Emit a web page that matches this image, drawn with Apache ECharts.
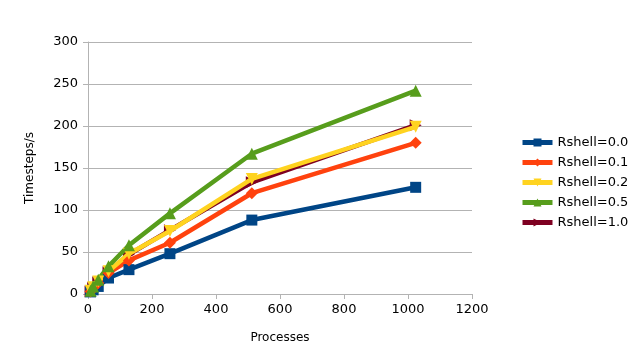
<!DOCTYPE html>
<html><head><meta charset="utf-8">
<script src="https://cdn.jsdelivr.net/npm/echarts@6/dist/echarts.min.js"></script>
<style>html,body{margin:0;padding:0;background:#fff}#c{width:643px;height:364px}</style>
</head><body><div id="c"></div>
<script>
const processes = [8, 16, 32, 64, 128, 256, 512, 1024];
const seriesNames = ['Rshell=0.0', 'Rshell=0.1', 'Rshell=0.2', 'Rshell=0.5', 'Rshell=1.0'];
const rshell00 = [2.5, 5, 9, 19, 29, 48, 88, 127];
const rshell01 = [3, 7, 13, 25, 40, 61, 120, 180];
const rshell02 = [4, 8, 15, 27, 48, 75, 137, 199];
const rshell05 = [4, 9, 17, 33, 58, 96, 167, 242];
const rshell10 = [3, 7, 14, 26, 47, 76, 133, 201];
const yTicks = [0, 50, 100, 150, 200, 250, 300];
const xTicks = [0, 200, 400, 600, 800, 1000, 1200];

const colors = ['#004586', '#ff420e', '#ffd320', '#579d1c', '#7e0021'];
const symbols = ['rect', 'diamond', 'path://M0,0 L10,0 L5,10 Z', 'triangle', 'path://M0,0 L10,5 L0,10 Z'];
const allData = [rshell00, rshell01, rshell02, rshell05, rshell10];
const font = 'DejaVu Sans';

const chart = echarts.init(document.getElementById('c'), null, {renderer: 'canvas'});
chart.setOption({
  animation: false,
  backgroundColor: '#fff',
  textStyle: {fontFamily: font},
  grid: {left: 88, top: 42, right: 171, bottom: 70, containLabel: false},
  legend: {
    orient: 'vertical', left: 520, top: 136, itemGap: 7, padding: 0,
    itemWidth: 30, itemHeight: 10,
    data: seriesNames,
    lineStyle: {width: 5},
    textStyle: {fontFamily: font, fontSize: 13, color: '#000'}
  },
  xAxis: {
    type: 'value', min: xTicks[0], max: xTicks[xTicks.length-1], interval: 200,
    name: 'Processes', nameLocation: 'middle', nameGap: 38,
    nameTextStyle: {fontFamily: font, fontSize: 12, color: '#000'},
    axisLine: {show: true, lineStyle: {color: '#b3b3b3'}},
    axisTick: {show: true, inside: false, length: 5, lineStyle: {color: '#b3b3b3'}},
    axisLabel: {fontFamily: font, fontSize: 13, color: '#000', margin: 9, formatter: v => String(v)},
    splitLine: {show: false}
  },
  yAxis: {
    type: 'value', min: yTicks[0], max: yTicks[yTicks.length-1], interval: 50,
    name: 'Timesteps/s', nameLocation: 'middle', nameGap: 52, nameRotate: 90,
    nameTextStyle: {fontFamily: font, fontSize: 12, color: '#000'},
    axisLine: {show: true, lineStyle: {color: '#b3b3b3'}},
    axisTick: {show: true, inside: false, length: 5, lineStyle: {color: '#b3b3b3'}},
    axisLabel: {fontFamily: font, fontSize: 13, color: '#000', margin: 10, formatter: v => String(v)},
    splitLine: {show: true, lineStyle: {color: '#b3b3b3', width: 1}}
  },
  series: seriesNames.map((n, i) => ({
    name: n, type: 'line',
    data: processes.map((p, j) => [p, allData[i][j]]),
    symbol: symbols[i],
    symbolSize: i === 0 ? 11 : 12,
    showAllSymbol: true,
    z: i === 4 ? 1 : 2,
    itemStyle: {color: colors[i], borderWidth: 0},
    lineStyle: {color: colors[i], width: 4.5},
    emphasis: {disabled: true}
  }))
});
</script></body></html>
